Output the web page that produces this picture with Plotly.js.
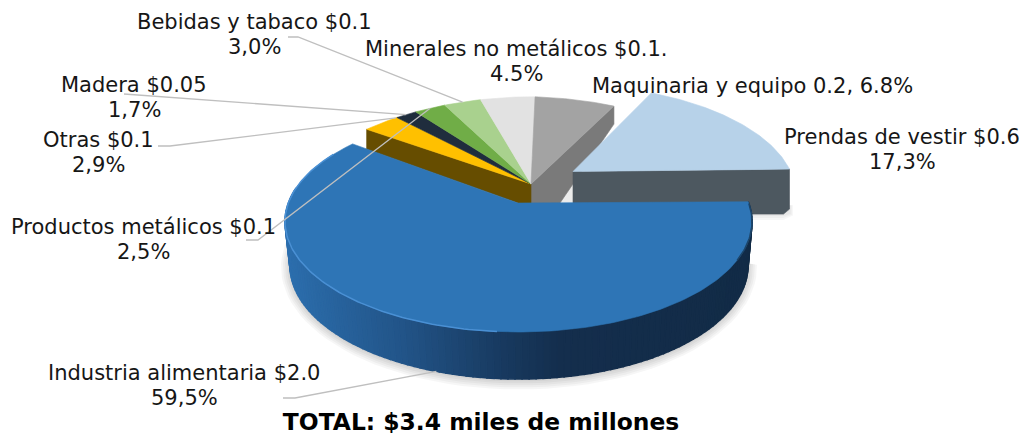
<!DOCTYPE html>
<html><head><meta charset="utf-8">
<script src="https://cdn.plot.ly/plotly-3.0.1.min.js"></script>
<style>html,body{margin:0;padding:0;background:#fff}#c{width:1022px;height:436px}</style></head>
<body><div id="c"></div><script>
// ---- data (clockwise from 12 o'clock) ----
const categories = ["Maquinaria y equipo","Prendas de vestir","Industria alimentaria","Otras","Madera","Productos metálicos","Bebidas y tabaco","Minerales no metálicos"];
const shares = [6.8,17.3,59.5,2.9,1.7,2.5,3.0,4.5];
const amountLabels = ["0.2, 6.8%","$0.6<br>17,3%","$2.0<br>59,5%","$0.1<br>2,9%","$0.05<br>1,7%","$0.1<br>2,5%","$0.1<br>3,0%","$0.1.<br>4.5%"];
const totalTitle = "TOTAL: $3.4 miles de millones";

// ---- styling / projection ----
const topColors = ["#a3a3a3","#b7d2e9","#2e75b6","#ffc000","#1f2d3d","#70ad47","#a9d18e","#e2e2e2"];
const FONT = "'DejaVu Sans', Verdana, sans-serif";
function group(ax,ay,cx,cy,rx,ry,rot,tilt){const p=[(ax-cx)/rx,(cy-ay)/ry];return {ax,ay,cx,cy,rx,ry,rot,p,tilt:tilt||0};}
const back   = group(531,184,520,204.6,229,108,1.5,0.03);
const prenda = group(573,171.5,562.5,195,233.5,110.4,0);
const blue   = group(518,203,518.5,221.6,233.5,110.4,1);
const blueLow= group(519,247,519,265.5,229,113.5,1);
function rim(g,deg){
  const t=(deg+g.rot)*Math.PI/180, w=[Math.sin(t),Math.cos(t)], p=g.p;
  const pp=p[0]*p[0]+p[1]*p[1], d=p[0]*w[0]+p[1]*w[1], k=pp>0?d/pp:0, s=Math.sqrt(1-pp);
  const par=[k*p[0],k*p[1]], perp=[(w[0]-par[0])*s,(w[1]-par[1])*s], den=1+d;
  const X=g.cx+g.rx*(p[0]+par[0]+perp[0])/den, Y=g.cy-g.ry*(p[1]+par[1]+perp[1])/den;
  return [X, Y+g.tilt*Math.max(0,g.ax-X)];
}
function arc(g,a,b,step=1){const o=[];const n=Math.max(2,Math.ceil(Math.abs(b-a)/step));for(let i=0;i<=n;i++)o.push(rim(g,a+(b-a)*i/n));return o;}
const total = shares.reduce((a,b)=>a+b,0);
const bounds=[0]; shares.forEach(v=>bounds.push(bounds[bounds.length-1]+v/total*360));
const traces=[];
function poly(pts,color,name,lineW){traces.push({type:'scatter',mode:'lines',x:pts.map(q=>q[0]).concat(pts[0][0]),y:pts.map(q=>q[1]).concat(pts[0][1]),
  fill:'toself',fillcolor:color,line:{color:lineW===0?'rgba(0,0,0,0)':color,width:lineW===undefined?0.6:lineW},hoverinfo:name?'text':'skip',text:name||'',showlegend:false});}
function path(pts,color,w){traces.push({type:'scatter',mode:'lines',x:pts.map(q=>q[0]),y:pts.map(q=>q[1]),line:{color,width:w},hoverinfo:'skip',showlegend:false});}
function lerpColor(stops,x){let i=0;while(i<stops.length-2&&x>stops[i+1][0])i++;const [x0,c0]=stops[i],[x1,c1]=stops[i+1];
  const t=Math.min(1,Math.max(0,(x-x0)/(x1-x0)));return 'rgb('+c0.map((c,j)=>Math.round(c+(c1[j]-c)*t)).join(',')+')';}

// back slices: radial faces, then tops
const gEnd=rim(back,bounds[3]), mEnd=rim(back,bounds[1]);
const wallDrop=19, mDrop=18;
poly([[560,202],[573,183],[573,202]],'#ececec');
poly([[back.ax,back.ay],mEnd,[mEnd[0],mEnd[1]+mDrop],[back.ax+29,back.ay+wallDrop],[back.ax,back.ay+wallDrop]],'#7a7a7a');
poly([[back.ax,back.ay],rim(back,bounds[3]),[gEnd[0],gEnd[1]+20],[back.ax-13,back.ay+wallDrop],[back.ax,back.ay+wallDrop]],'#664d00');
[3,4,5,6,7,0].forEach(i=>{poly([[back.ax,back.ay]].concat(arc(back,bounds[i],bounds[i+1])),topColors[i],categories[i]+' '+shares[i]+'%');});

// exploded Prendas slice
const pEnd=rim(prenda,bounds[2]);
[6,4,2].forEach(e=>poly([[pEnd[0]-60,pEnd[1]+44],[pEnd[0]+e*0.6,pEnd[1]+36],[pEnd[0]+e*0.6,pEnd[1]+44+e*0.4],[pEnd[0]-6,pEnd[1]+45+e],[pEnd[0]-60,pEnd[1]+45+e]],'rgba(0,0,0,0.03)',null,0));
poly([[prenda.ax,prenda.ay],pEnd,[pEnd[0],pEnd[1]+40],[pEnd[0]-6,pEnd[1]+45],[prenda.ax,pEnd[1]+45]],'#4d5860');
poly([[prenda.ax,prenda.ay]].concat(arc(prenda,bounds[1],bounds[2])),topColors[1],categories[1]+' '+shares[1]+'%');

// soft shadow under the blue slice
[9,7,5,3,1].forEach(e=>{
  const g=group(519,249,519,267,229+e,113.5+e,1);
  poly(arc(g,bounds[2]+8,bounds[3]-15,3),'rgba(0,0,0,0.035)',null,0);
});
// blue wall: gradient by x
const wallStops=[[285,[44,110,173]],[400,[34,84,136]],[500,[24,58,96]],[560,[20,46,77]],[760,[18,43,70]]];
for(let a=bounds[2];a<bounds[3]-30;a+=1.5){
  const b=a+1.5, A=rim(blue,a),B=rim(blue,b),C=rim(blueLow,b),D=rim(blueLow,a);
  poly([A,B,C,D],lerpColor(wallStops,(A[0]+B[0])/2),null,1.6);
}
poly([[blue.ax,blue.ay]].concat(arc(blue,bounds[2],bounds[3])),topColors[2],categories[2]+' '+shares[2]+'%');
// bevel highlights on the blue rim
path(arc(blue,bounds[2]+95,bounds[3]-8),'#4a90d4',1.5);
path(arc(blue,bounds[2]+1,bounds[2]+30),'#1c4468',1.5);

// leader lines: elbow near the label, end on the slice
const leaders=[
 [[[288,37],[298,37]], rim(back,(bounds[6]+bounds[7])/2)],
 [[[124,94]], rim(back,(bounds[4]+bounds[5])/2)],
 [[[158,146],[170,146]], rim(back,(bounds[3]+bounds[4])/2+5)],
 [[[246,240],[258,240]], rim(back,(bounds[5]+bounds[6])/2)],
 [[[283,398],[295,398]], rim(blueLow,197)]
];
leaders.forEach(l=>path(l[0].concat([l[1]]),'#bfbfbf',1.3));

// label placement (centre x, middle y of the block); lines are 25px apart
const labelPos={0:[752,86],1:[902,149],2:[184,385],3:[98,152],4:[134,97],5:[143,239],6:[254,34],7:[516,61]};
const LINE=25;
const annotations=[];
categories.forEach((c,i)=>{
  const lines=(c+' '+amountLabels[i]).split('<br>');
  lines.forEach((t,j)=>annotations.push({xref:'x',yref:'y',x:labelPos[i][0],y:labelPos[i][1]+(j-(lines.length-1)/2)*LINE,xanchor:'center',yanchor:'middle',align:'center',showarrow:false,
    text:t,font:{family:FONT,size:21,color:'#161616'}}));
});

Plotly.newPlot('c',traces,{
  width:1022,height:436,margin:{l:0,r:0,t:0,b:0},paper_bgcolor:'#fff',plot_bgcolor:'#fff',showlegend:false,
  xaxis:{range:[0,1022],visible:false,fixedrange:true},yaxis:{range:[436,0],visible:false,fixedrange:true},
  title:{text:'<b>'+totalTitle+'</b>',x:481/1022,xanchor:'center',y:1-422/436,yanchor:'middle',font:{family:FONT,size:23.4,color:'#000'}},
  annotations
},{displayModeBar:false});
</script></body></html>
